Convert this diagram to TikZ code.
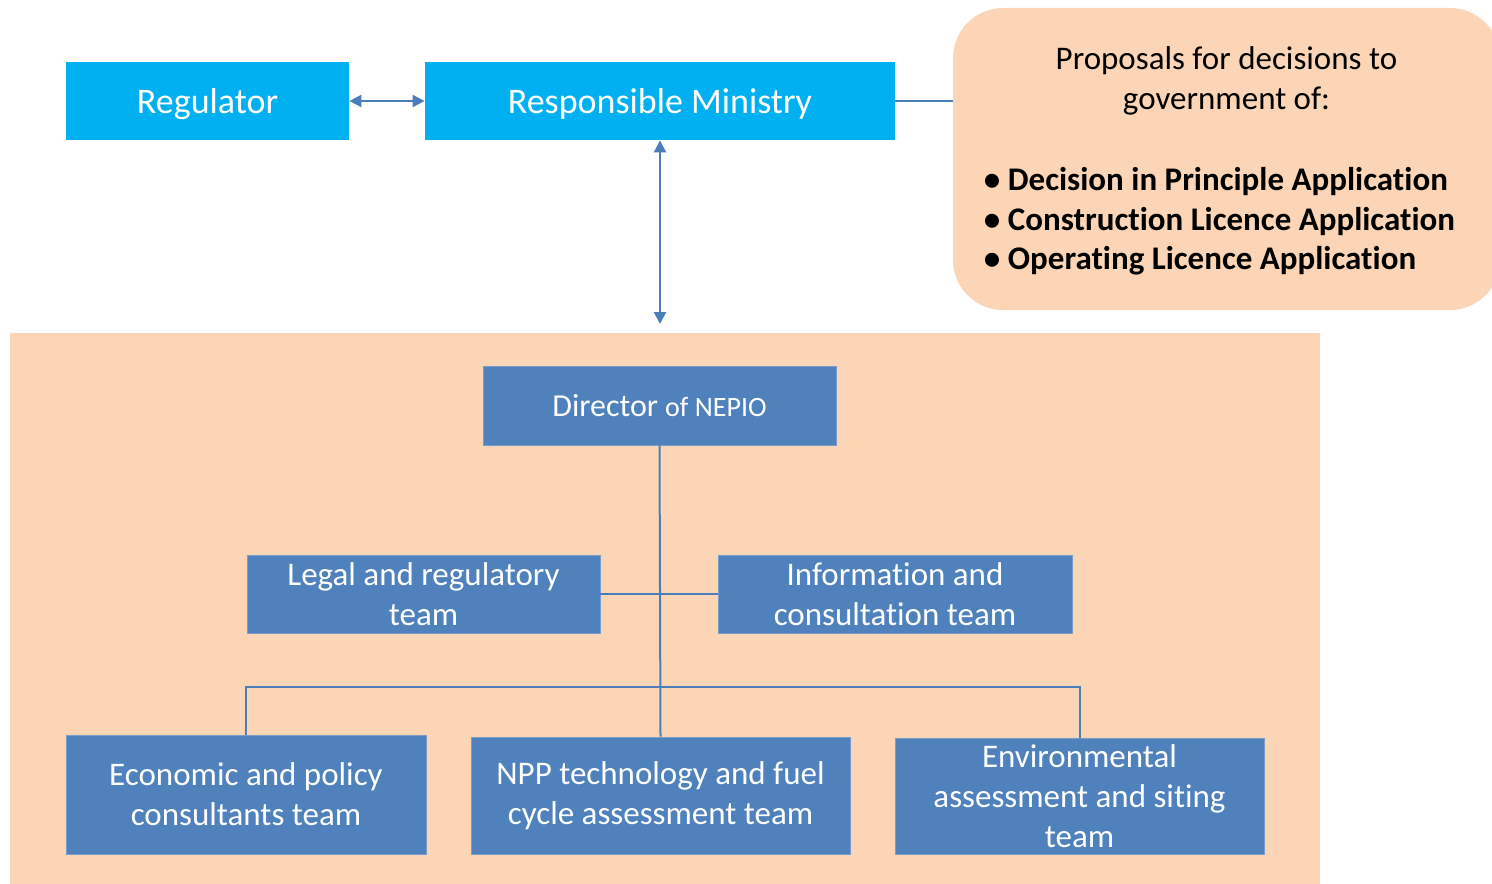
\documentclass[tikz,border=0pt]{standalone}
\usepackage{fontspec}
\setmainfont{Carlito}[Ligatures=NoCommon,RawFeature={-liga;-clig;-calt;-dlig}]
\usetikzlibrary{arrows.meta}
\definecolor{topblue}{HTML}{00B0F0}
\definecolor{teamblue}{HTML}{4F81BD}
\definecolor{teamedge}{HTML}{7A9CCB}
\definecolor{peach}{HTML}{FBD5B5}
\definecolor{linkblue}{HTML}{4A7EBB}
\newcommand{\lowertxt}[1]{\raisebox{0pt}[\dimexpr\height+3pt\relax][\depth]{#1}}
\tikzset{
  topbox/.style={fill=topblue, text=white, inner sep=0pt, minimum height=39pt,
    font=\fontsize{18}{21}\selectfont},
  teambox/.style={fill=teamblue, draw=teamedge, line width=0.4pt, text=white, inner sep=0pt,
    align=center, font=\fontsize{16.5}{20}\selectfont},
  propbox/.style={fill=peach, rounded corners=25pt, inner sep=0pt,
    font=\fontsize{16.5}{20}\selectfont},
  link/.style={draw=linkblue, line width=1pt},
  biarrow/.style={link, {Triangle[width=6pt,length=6pt]}-{Triangle[width=6pt,length=6pt]}, fill=linkblue}
}
\begin{document}
\begin{tikzpicture}[x=0.5pt,y=-0.5pt]
\useasboundingbox (0,0) rectangle (1492,883);
% panel
\fill[peach] (10,333) rectangle (1320,890);
% top row
\node[topbox, minimum width=141.5pt] (reg) at (207.5,101) {\lowertxt{Regulator}};
\node[topbox, minimum width=235pt] (min) at (660,101) {\lowertxt{Responsible Ministry}};
\node[propbox, minimum width=273.5pt, minimum height=151pt] (prop) at (1226.5,159)
  {\lowertxt{\begin{tabular}{@{}c@{}}Proposals for decisions to\\government of:\\[20pt]
   \begin{tabular}{@{}l@{}}\textbf{\textbullet\ Decision in Principle Application}\\
   \textbf{\textbullet\ Construction Licence Application}\\
   \textbf{\textbullet\ Operating Licence Application}\end{tabular}\hspace*{7pt}\end{tabular}}};
\coordinate (arrend) at (660,324);
% NEPIO
\node[teambox, minimum width=176.5pt, minimum height=39.5pt] (dir) at (659.5,405.5)
  {\fontsize{16}{20}\selectfont Director {\fontsize{14}{20}\selectfont of NEPIO}};
\node[teambox, minimum width=176.5pt, minimum height=39pt] (legal) at (423.5,594)
  {Legal and regulatory\\team};
\node[teambox, minimum width=177pt, minimum height=39pt] (info) at (895,594)
  {Information and\\consultation team};
\node[teambox, minimum width=180pt, minimum height=59.5pt] (econ) at (246,794.5)
  {Economic and policy\\consultants team};
\node[teambox, minimum width=189.5pt, minimum height=58.5pt] (npp) at (660.5,795.5)
  {NPP technology and fuel\\cycle assessment team};
\node[teambox, minimum width=184.5pt, minimum height=58pt] (env) at (1079.5,796)
  {Environmental\\assessment and siting\\team};
\coordinate (bus) at (660,687);
% connectors
\draw[biarrow] (reg) -- (min);
\draw[link] (min.east) -- (min.east -| prop.west);
\draw[biarrow] (min.south) -- (arrend);
\draw[link] (dir.south) -- (npp.north);
\draw[link] (legal.east) -- (info.west);
\draw[link] (econ.north) |- (bus) -| (env.north);
\end{tikzpicture}
\end{document}
